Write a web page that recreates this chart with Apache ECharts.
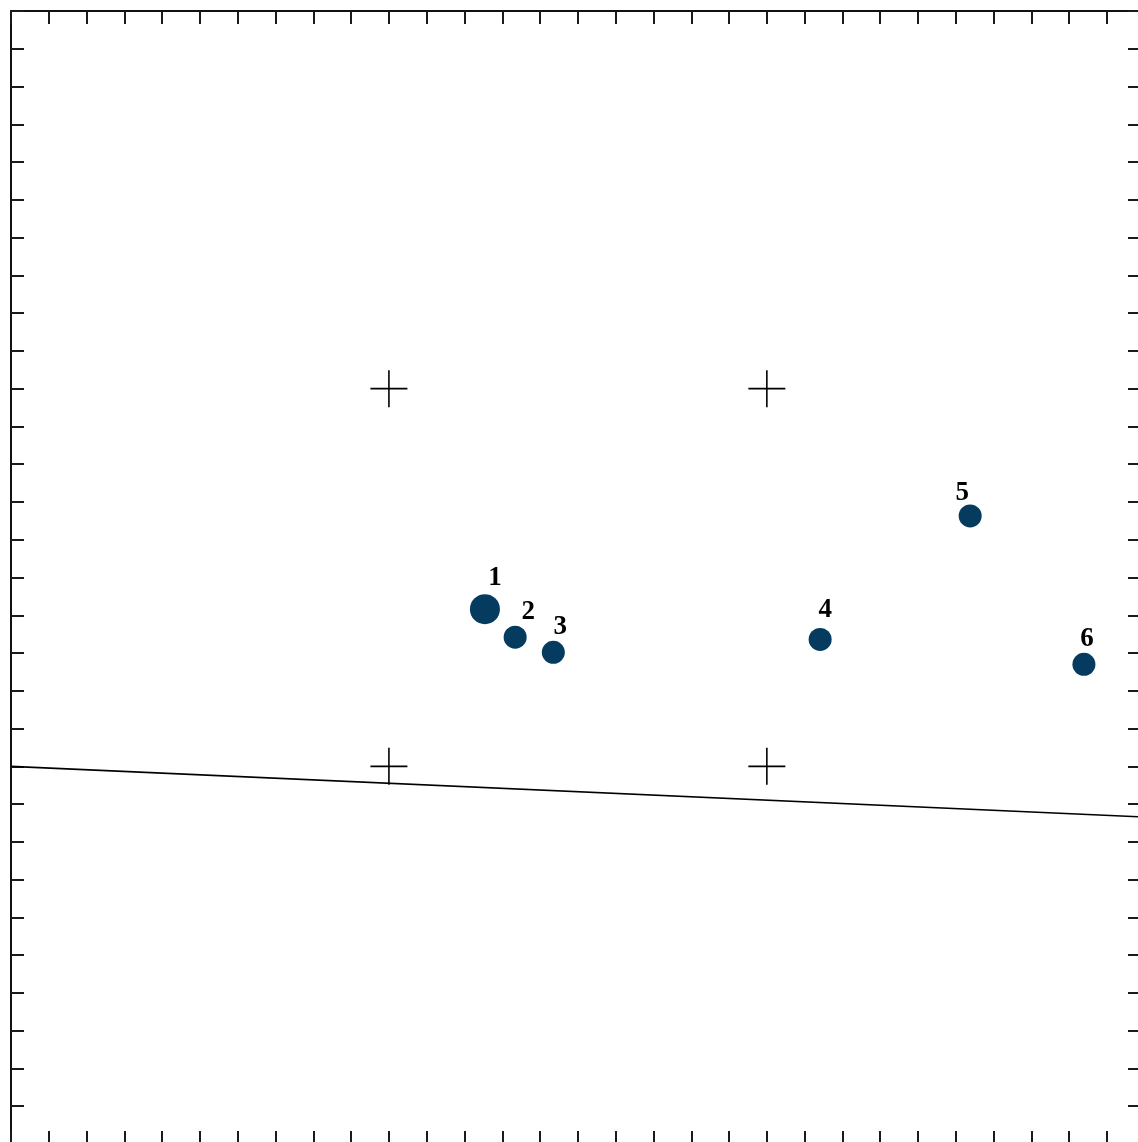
<!DOCTYPE html>
<html>
<head>
<meta charset="utf-8">
<script src="https://cdn.jsdelivr.net/npm/echarts@6/dist/echarts.min.js"></script>
<style>
html,body{margin:0;padding:0;background:#fff;overflow:hidden;}
#chart{width:1138px;height:1142px;}
</style>
</head>
<body>
<div id="chart"></div>
<script>
// ---- data ----
var pointLabels = ['1', '2', '3', '4', '5', '6'];
var pointX = [12.54, 13.34, 14.35, 21.41, 25.38, 28.39];
var pointY = [14.16, 13.42, 13.02, 13.36, 16.63, 12.70];
var crossX = [10, 20, 10, 20];
var crossY = [20, 20, 10, 10];
var lineX = [0, 29.9];
var lineY = [10, 8.66];
var xMin = 0, xMax = 29.9, yMin = 0, yMax = 30;

// ---- styling (label placement relative to each dot) ----
var labelOffsets = [[10, -31], [13, -25], [7, -25], [5, -29], [-8, -23], [3, -25]];

var chart = echarts.init(document.getElementById('chart'), null, {renderer: 'canvas'});

var axisCommon = {
  type: 'value',
  interval: 1,
  axisLine: {show: true, onZero: false, lineStyle: {color: '#111', width: 2}},
  axisTick: {show: true, inside: true, length: 13, lineStyle: {color: '#1a1a1a', width: 2}},
  axisLabel: {show: false},
  splitLine: {show: false}
};

var scatterData = pointX.map(function (x, i) {
  return {
    value: [x, pointY[i]],
    name: pointLabels[i],
    label: {offset: labelOffsets[i]}
  };
});

var option = {
  animation: false,
  backgroundColor: '#ffffff',
  grid: {left: 11, top: 11, width: 1130, height: 1133, containLabel: false, outerBoundsMode: 'none'},
  xAxis: [
    Object.assign({}, axisCommon, {position: 'bottom', min: xMin, max: xMax}),
    Object.assign({}, axisCommon, {position: 'top', min: xMin, max: xMax})
  ],
  yAxis: [
    Object.assign({}, axisCommon, {position: 'left', min: yMin, max: yMax}),
    Object.assign({}, axisCommon, {position: 'right', min: yMin, max: yMax})
  ],
  series: [
    {
      type: 'line',
      data: lineX.map(function (x, i) { return [x, lineY[i]]; }),
      symbol: 'none',
      lineStyle: {color: '#000', width: 1.6},
      clip: true,
      silent: true
    },
    {
      type: 'custom',
      data: crossX.map(function (x, i) { return [x, crossY[i]]; }),
      renderItem: function (params, api) {
        var c = api.coord([api.value(0), api.value(1)]);
        var h = 18.5;
        return {
          type: 'group',
          children: [
            {type: 'line', shape: {x1: c[0] - h, y1: c[1], x2: c[0] + h, y2: c[1]}, style: {stroke: '#000', lineWidth: 1.6}},
            {type: 'line', shape: {x1: c[0], y1: c[1] - h, x2: c[0], y2: c[1] + h}, style: {stroke: '#000', lineWidth: 1.6}}
          ]
        };
      },
      silent: true
    },
    {
      type: 'scatter',
      data: scatterData,
      symbol: 'circle',
      symbolSize: function (v, p) { return p.dataIndex === 0 ? 30 : 23; },
      itemStyle: {color: '#053b5e', opacity: 1},
      label: {
        show: true,
        position: 'inside',
        formatter: '{b}',
        color: '#000',
        fontFamily: 'Liberation Serif',
        fontWeight: 'bold',
        fontSize: 27
      },
      emphasis: {disabled: true}
    }
  ]
};

chart.setOption(option);
</script>
</body>
</html>
